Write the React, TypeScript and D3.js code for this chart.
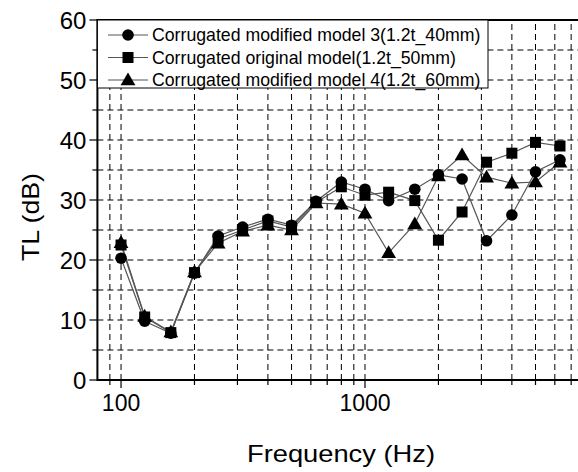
import React from 'react';
import * as d3 from 'd3';

// 1/3 옥타브 중심 주파수
const freqs = [100, 125, 160, 200, 250, 315, 400, 500, 630, 800, 1000, 1250, 1600, 2000, 2500, 3150, 4000, 5000, 6300];

const model3 = [20.3, 9.8, 7.8, 17.8, 24.0, 25.5, 26.8, 25.8, 29.8, 33.0, 31.8, 29.9, 31.8, 34.2, 33.5, 23.2, 27.5, 34.7, 36.7];
const original = [22.5, 10.5, 7.9, 17.9, 23.5, 25.0, 26.5, 25.5, 29.6, 32.2, 30.8, 31.3, 29.9, 23.3, 28.0, 36.3, 37.8, 39.6, 39.0];
const model4 = [22.9, 10.6, 8.0, 18.0, 22.8, 24.8, 25.8, 25.0, 29.5, 29.3, 27.8, 21.2, 26.0, 34.0, 37.5, 33.8, 32.8, 33.0, 36.3];

const seriesNames = [
  'Corrugated modified model 3(1.2t_40mm)',
  'Corrugated original model(1.2t_50mm)',
  'Corrugated modified model 4(1.2t_60mm)',
];
const seriesShapes = ['circle', 'square', 'triangle'];
const seriesValues = [model3, original, model4];

const yTicks = [0, 10, 20, 30, 40, 50, 60];
const xTickLabels = [100, 1000];

const FONT = 'Liberation Sans, Arial, Helvetica, sans-serif';

function Marker({ shape, cx, cy }: { shape: string; cx: number; cy: number }) {
  if (shape === 'circle') return <circle cx={cx} cy={cy} r={5.8} fill="#000" />;
  if (shape === 'square') return <rect x={cx - 5.5} y={cy - 5.5} width={11} height={11} fill="#000" />;
  const tri = d3.symbol(d3.symbolTriangle, 95)();
  return <path d={tri as string} transform={`translate(${cx},${cy + 1})`} fill="#000" />;
}

export default function App() {
  const width = 578;
  const height = 472;

  // 로그 축: 100 -> 121px, 1000 -> 365px
  const x = d3.scaleLog().domain([80, 8000]).range([97.4, 585.3]);
  const y = d3.scaleLinear().domain([0, 60]).range([380, 20]);

  const gridX = x.ticks().filter((t) => t > 80 && t < 8000);
  const gridY = d3.range(5, 60, 5);
  const minorY = d3.range(5, 60, 10);

  const line = d3
    .line<number>()
    .x((_, i) => x(freqs[i]))
    .y((d) => y(d));

  const left = x(80);
  const right = x(8000);

  return (
    <svg width={width} height={height} style={{ position: 'absolute', left: 0, top: 0, background: '#fff' }}>
      {/* 그리드 */}
      {gridX.map((t) => (
        <line key={'gx' + t} x1={x(t)} x2={x(t)} y1={y(0)} y2={y(60)} stroke="#000" strokeWidth={1} strokeDasharray="6,4" />
      ))}
      {gridY.map((t) => (
        <line key={'gy' + t} x1={left} x2={right} y1={y(t)} y2={y(t)} stroke="#000" strokeWidth={1} strokeDasharray="6,4" />
      ))}

      {/* 데이터 선 */}
      {seriesValues.map((vals, si) => (
        <path key={'l' + si} d={line(vals) as string} fill="none" stroke="#555" strokeWidth={1.2} />
      ))}
      {seriesValues.map((vals, si) =>
        vals.map((v, i) => <Marker key={`m${si}-${i}`} shape={seriesShapes[si]} cx={x(freqs[i])} cy={y(v)} />),
      )}

      {/* 축 */}
      <line x1={left} x2={right} y1={y(60)} y2={y(60)} stroke="#000" strokeWidth={2} />
      <line x1={left} x2={right} y1={y(0)} y2={y(0)} stroke="#000" strokeWidth={2} />
      <line x1={left} x2={left} y1={y(0) + 1} y2={y(60) - 1} stroke="#000" strokeWidth={2} />

      {yTicks.map((t) => (
        <g key={'yt' + t}>
          <line x1={left - 8} x2={left} y1={y(t)} y2={y(t)} stroke="#000" strokeWidth={1.2} />
          <text x={left - 11} y={y(t)} textAnchor="end" dominantBaseline="central" fontFamily={FONT} fontSize={24}>
            {t}
          </text>
        </g>
      ))}
      {minorY.map((t) => (
        <line key={'ym' + t} x1={left - 5} x2={left} y1={y(t)} y2={y(t)} stroke="#000" strokeWidth={1.2} />
      ))}

      {gridX.map((t) => {
        const major = xTickLabels.includes(t);
        return (
          <line key={'xt' + t} x1={x(t)} x2={x(t)} y1={y(0)} y2={y(0) + (major ? 8 : 5)} stroke="#000" strokeWidth={1.2} />
        );
      })}
      {xTickLabels.map((t) => (
        <text key={'xl' + t} x={x(t)} y={403} textAnchor="middle" dominantBaseline="central" fontFamily={FONT} fontSize={23}>
          {t}
        </text>
      ))}

      {/* 축 제목 */}
      <text x={341} y={462} textAnchor="middle" fontFamily={FONT} fontSize={24} textLength={188} lengthAdjust="spacingAndGlyphs">
        Frequency (Hz)
      </text>
      <text
        transform="translate(39,217) rotate(-90)"
        textAnchor="middle"
        fontFamily={FONT}
        fontSize={24}
        textLength={88}
        lengthAdjust="spacingAndGlyphs">
        TL (dB)
      </text>

      {/* 범례 */}
      <rect x={left} y={y(60)} width={488 - left} height={88 - y(60)} fill="#fff" stroke="#000" strokeWidth={1} />
      {seriesNames.map((name, i) => {
        const ly = 35 + i * 22.5;
        return (
          <g key={'lg' + i}>
            <line x1={108} x2={148} y1={ly} y2={ly} stroke="#555" strokeWidth={1.2} />
            <Marker shape={seriesShapes[i]} cx={128} cy={ly} />
            <text x={152} y={ly} dominantBaseline="central" fontFamily={FONT} fontSize={17.7}>
              {name}
            </text>
          </g>
        );
      })}
    </svg>
  );
}
